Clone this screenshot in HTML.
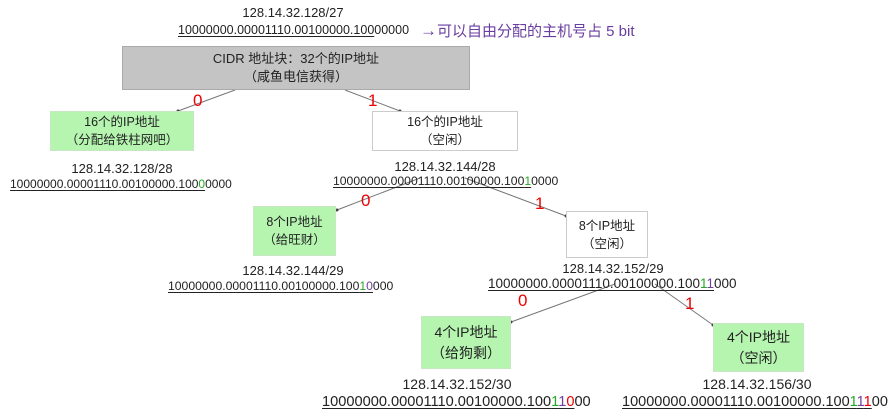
<!DOCTYPE html>
<html><head><meta charset="utf-8"><style>
body{margin:0;width:894px;height:411px;background:#fff;position:relative;overflow:hidden;font-family:"Liberation Sans","Noto Sans CJK SC",sans-serif;color:#222}
.t{position:absolute;white-space:nowrap;line-height:1;transform:translateX(-50%)}
.b{position:absolute;white-space:nowrap;line-height:1}
.u{text-decoration:underline;text-underline-offset:2px}
.box{position:absolute;box-sizing:border-box;display:flex;flex-direction:column;align-items:center;justify-content:center;font-size:12.5px;line-height:18px;text-align:center}
.g{background:#b5f5b0;border:1px solid #c8e6c4}
.w{background:#fff;border:1px solid #ccc}
.r{position:absolute;color:#e00;font-size:17px;line-height:1}
.gr{color:#2a2}.pu{color:#7040a0}.rd{color:#e00}
</style></head><body>
<svg width="894" height="411" style="position:absolute;left:0;top:0">
<g stroke="#777" stroke-width="1" fill="none">
<line x1="235" y1="90" x2="178" y2="111"/><line x1="345" y1="90" x2="400" y2="111"/>
<line x1="420" y1="178" x2="337" y2="210"/><line x1="465" y1="178" x2="566" y2="216"/>
<line x1="615" y1="284" x2="511" y2="322"/><line x1="655" y1="284" x2="713" y2="325"/>
</g>
<g fill="#444"><circle cx="178" cy="111" r="1.5"/><circle cx="400" cy="111" r="1.5"/><circle cx="337" cy="210" r="1.5"/><circle cx="566" cy="216" r="1.5"/><circle cx="511" cy="322" r="1.5"/><circle cx="713" cy="325" r="1.5"/></g>
</svg>
<div class="t" style="left:293px;top:6px;font-size:13px">128.14.32.128/27</div>
<div class="b" style="left:178px;top:24px;font-size:12.5px"><span class="u">10000000.00001110.00100000.100</span>00000</div>
<div class="b" style="left:420px;top:22px;font-size:15px;color:#6a3ea0"><span style="font-size:17px">→</span>可以自由分配的主机号占 5 bit</div>
<div class="box" style="left:122px;top:46px;width:348px;height:44px;background:#c4c4c4;border:1px solid #aaa;font-size:13px">CIDR 地址块：32个的IP地址<span>（咸鱼电信获得）</span></div>
<div class="r" style="left:193px;top:92px">0</div><div class="r" style="left:368px;top:92px">1</div>
<div class="box g" style="left:50px;top:111px;width:144px;height:40px">16个的IP地址<span>（分配给铁柱网吧）</span></div>
<div class="box w" style="left:372px;top:111px;width:146px;height:40px">16个的IP地址<span>（空闲）</span></div>
<div class="t" style="left:122px;top:162px;font-size:13px">128.14.32.128/28</div>
<div class="b" style="left:10px;top:178px;font-size:12px"><span class="u">10000000.00001110.00100000.100<span class="gr">0</span></span>0000</div>
<div class="t" style="left:445px;top:160px;font-size:13px">128.14.32.144/28</div>
<div class="b" style="left:333px;top:175px;font-size:12.2px"><span class="u">10000000.00001110.00100000.100<span class="gr">1</span></span>0000</div>
<div class="r" style="left:361px;top:192px">0</div><div class="r" style="left:535px;top:195px">1</div>
<div class="box g" style="left:253px;top:206px;width:83px;height:50px">8个IP地址<span>（给旺财）</span></div>
<div class="box w" style="left:566px;top:211px;width:82px;height:47px">8个IP地址<span>（空闲）</span></div>
<div class="t" style="left:293px;top:264px;font-size:13px">128.14.32.144/29</div>
<div class="b" style="left:168px;top:280px;font-size:12.2px"><span class="u">10000000.00001110.00100000.100<span class="gr">1</span><span class="pu">0</span></span>000</div>
<div class="t" style="left:613px;top:262px;font-size:13px">128.14.32.152/29</div>
<div class="b" style="left:488px;top:277px;font-size:13.5px"><span class="u">10000000.00001110.00100000.100<span class="gr">1</span><span class="pu">1</span></span>000</div>
<div class="r" style="left:518px;top:292px">0</div><div class="r" style="left:685px;top:295px">1</div>
<div class="box g" style="left:421px;top:316px;width:90px;height:53px;font-size:14px;line-height:21px">4个IP地址<span>（给狗剩）</span></div>
<div class="box g" style="left:713px;top:323px;width:91px;height:49px;font-size:14px;line-height:21px">4个IP地址<span>（空闲）</span></div>
<div class="t" style="left:457px;top:377px;font-size:14px">128.14.32.152/30</div>
<div class="b" style="left:322px;top:395px;font-size:14.6px"><span class="u">10000000.00001110.00100000.100<span class="gr">1</span><span class="pu">1</span><span class="rd">0</span></span>00</div>
<div class="t" style="left:757px;top:377px;font-size:14px">128.14.32.156/30</div>
<div class="b" style="left:622px;top:395px;font-size:14.5px"><span class="u">10000000.00001110.00100000.100<span class="gr">1</span><span class="pu">1</span><span class="rd">1</span></span>00</div>
</body></html>
